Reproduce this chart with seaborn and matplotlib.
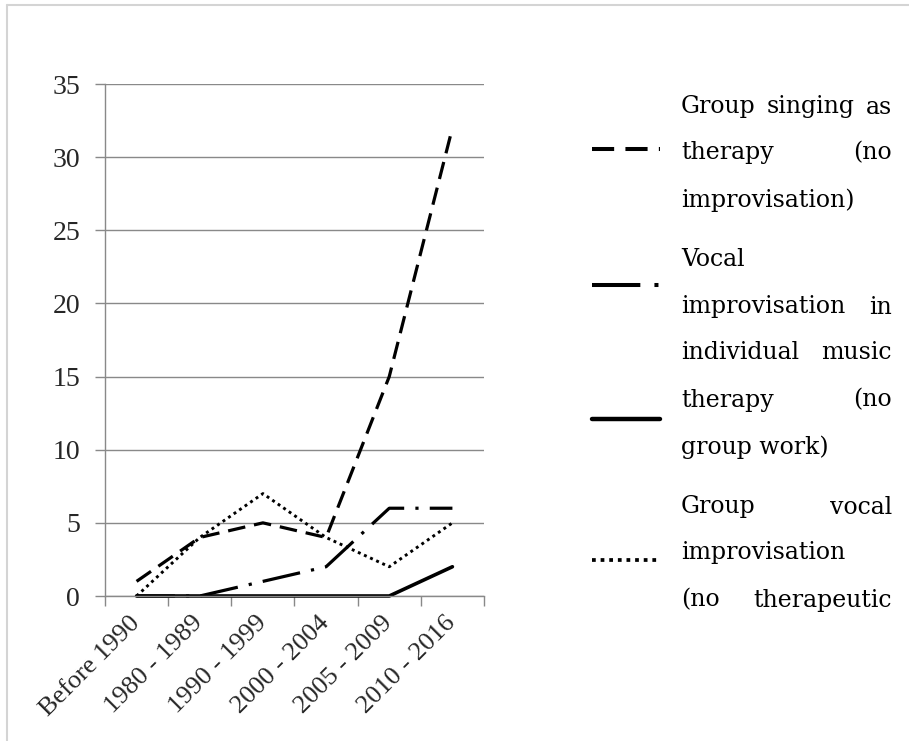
import matplotlib
matplotlib.use("Agg")
import matplotlib.pyplot as plt
from matplotlib.lines import Line2D
import seaborn as sns
import pandas as pd
import numpy as np

categories = ["Before 1990", "1980 - 1989", "1990 - 1999", "2000 - 2004", "2005 - 2009", "2010 - 2016"]
group_singing = [1, 4, 5, 4, 15, 32]
vocal_individual = [0, 0, 1, 2, 6, 6]
solid_series = [0, 0, 0, 0, 0, 2]
group_vocal = [0, 4, 7, 4, 2, 5]
y_ticks = [0, 5, 10, 15, 20, 25, 30, 35]

W, H = 909, 741
sns.set_theme(style="white")
plt.rcParams["font.family"] = ["Liberation Serif", "DejaVu Serif"]

fig = plt.figure(figsize=(W / 100, H / 100), dpi=100)
ax = fig.add_axes([105 / W, 1 - 596 / H, (484 - 105) / W, (596 - 84) / H])

x = np.arange(len(categories))
gray = "#898989"
styles = [
    (group_singing, (0, (5.5, 2.8)), 2.3),
    (vocal_individual, (0, (12, 3.5, 1, 3.5)), 2.3),
    (solid_series, "-", 2.6),
    (group_vocal, (0, (1, 1.3)), 2.1),
]
for vals, ls, lw in styles:
    df = pd.DataFrame({"x": x, "y": vals})
    sns.lineplot(data=df, x="x", y="y", ax=ax, color="black", linestyle=ls,
                 linewidth=lw, legend=False, clip_on=False)

ytick_font = dict(family="Liberation Serif", size=20)
xtick_font = dict(family="Liberation Serif", size=19)
ax.set_xlim(-0.5, len(categories) - 0.5)
ax.set_ylim(0, 35)
ax.set_yticks(y_ticks)
ax.set_yticklabels([str(v) for v in y_ticks], fontdict=ytick_font)
ax.yaxis.grid(True, color=gray, linewidth=1.0)
ax.set_axisbelow(True)
ax.set_xticks(x)
ax.set_xticklabels(categories, fontdict=xtick_font, rotation=45, ha="right",
                   rotation_mode="anchor", va="center")
ax.set_xticks(np.arange(-0.5, len(categories)), minor=True)
ax.tick_params(axis="x", which="major", length=0, pad=17)
ax.tick_params(axis="x", which="minor", length=7, width=1, color=gray, direction="out", bottom=True)
ax.tick_params(axis="y", length=7, width=1, color=gray, direction="out", left=True, pad=11)
for s in ["top", "right"]:
    ax.spines[s].set_visible(False)
for s in ["left", "bottom"]:
    ax.spines[s].set_color(gray)
    ax.spines[s].set_linewidth(1.0)
ax.set_xlabel("")
ax.set_ylabel("")

# figure border (top and left only visible)
fig.add_artist(Line2D([7 / W, 7 / W], [1 - 5 / H, 0], transform=fig.transFigure, color="#d4d4d4", lw=1.5))
fig.add_artist(Line2D([7 / W, 1], [1 - 5 / H, 1 - 5 / H], transform=fig.transFigure, color="#d4d4d4", lw=1.5))

def fx(px):
    return px / W

def fy(py):
    return 1 - py / H

# legend keys
keys = [(149, styles[0]), (285, styles[1]), (419, styles[2]), (560, styles[3])]
for ky, (vals, ls, lw) in keys:
    fig.add_artist(Line2D([fx(592), fx(660)], [fy(ky), fy(ky)], transform=fig.transFigure,
                          color="black", linestyle=ls, lw=lw + 0.6))

# legend text (justified like the original)
leg_font = dict(family="DejaVu Serif", fontsize=17, color="black")
lines = [
    ("Group singing as", 107, True),
    ("therapy (no", 153, True),
    ("improvisation)", 200, False),
    ("Vocal", 260, False),
    ("improvisation in", 307, True),
    ("individual music", 353, True),
    ("therapy (no", 400, True),
    ("group work)", 447, False),
    ("Group vocal", 507, True),
    ("improvisation", 553, False),
    ("(no therapeutic", 600, True),
]
x0, x1 = 681, 892
fig.canvas.draw()
renderer = fig.canvas.get_renderer()
for txt, py, just in lines:
    if not just:
        fig.text(fx(x0), fy(py), txt, ha="left", va="center", **leg_font)
        continue
    words = txt.split()
    objs = [fig.text(fx(x0), fy(py), w, ha="left", va="center", **leg_font) for w in words]
    widths = [o.get_window_extent(renderer).width for o in objs]
    gap = (x1 - x0 - sum(widths)) / (len(words) - 1)
    pos = x0
    for o, wd in zip(objs, widths):
        o.set_x(fx(pos))
        pos += wd + gap

fig.savefig("out.png", dpi=100)
